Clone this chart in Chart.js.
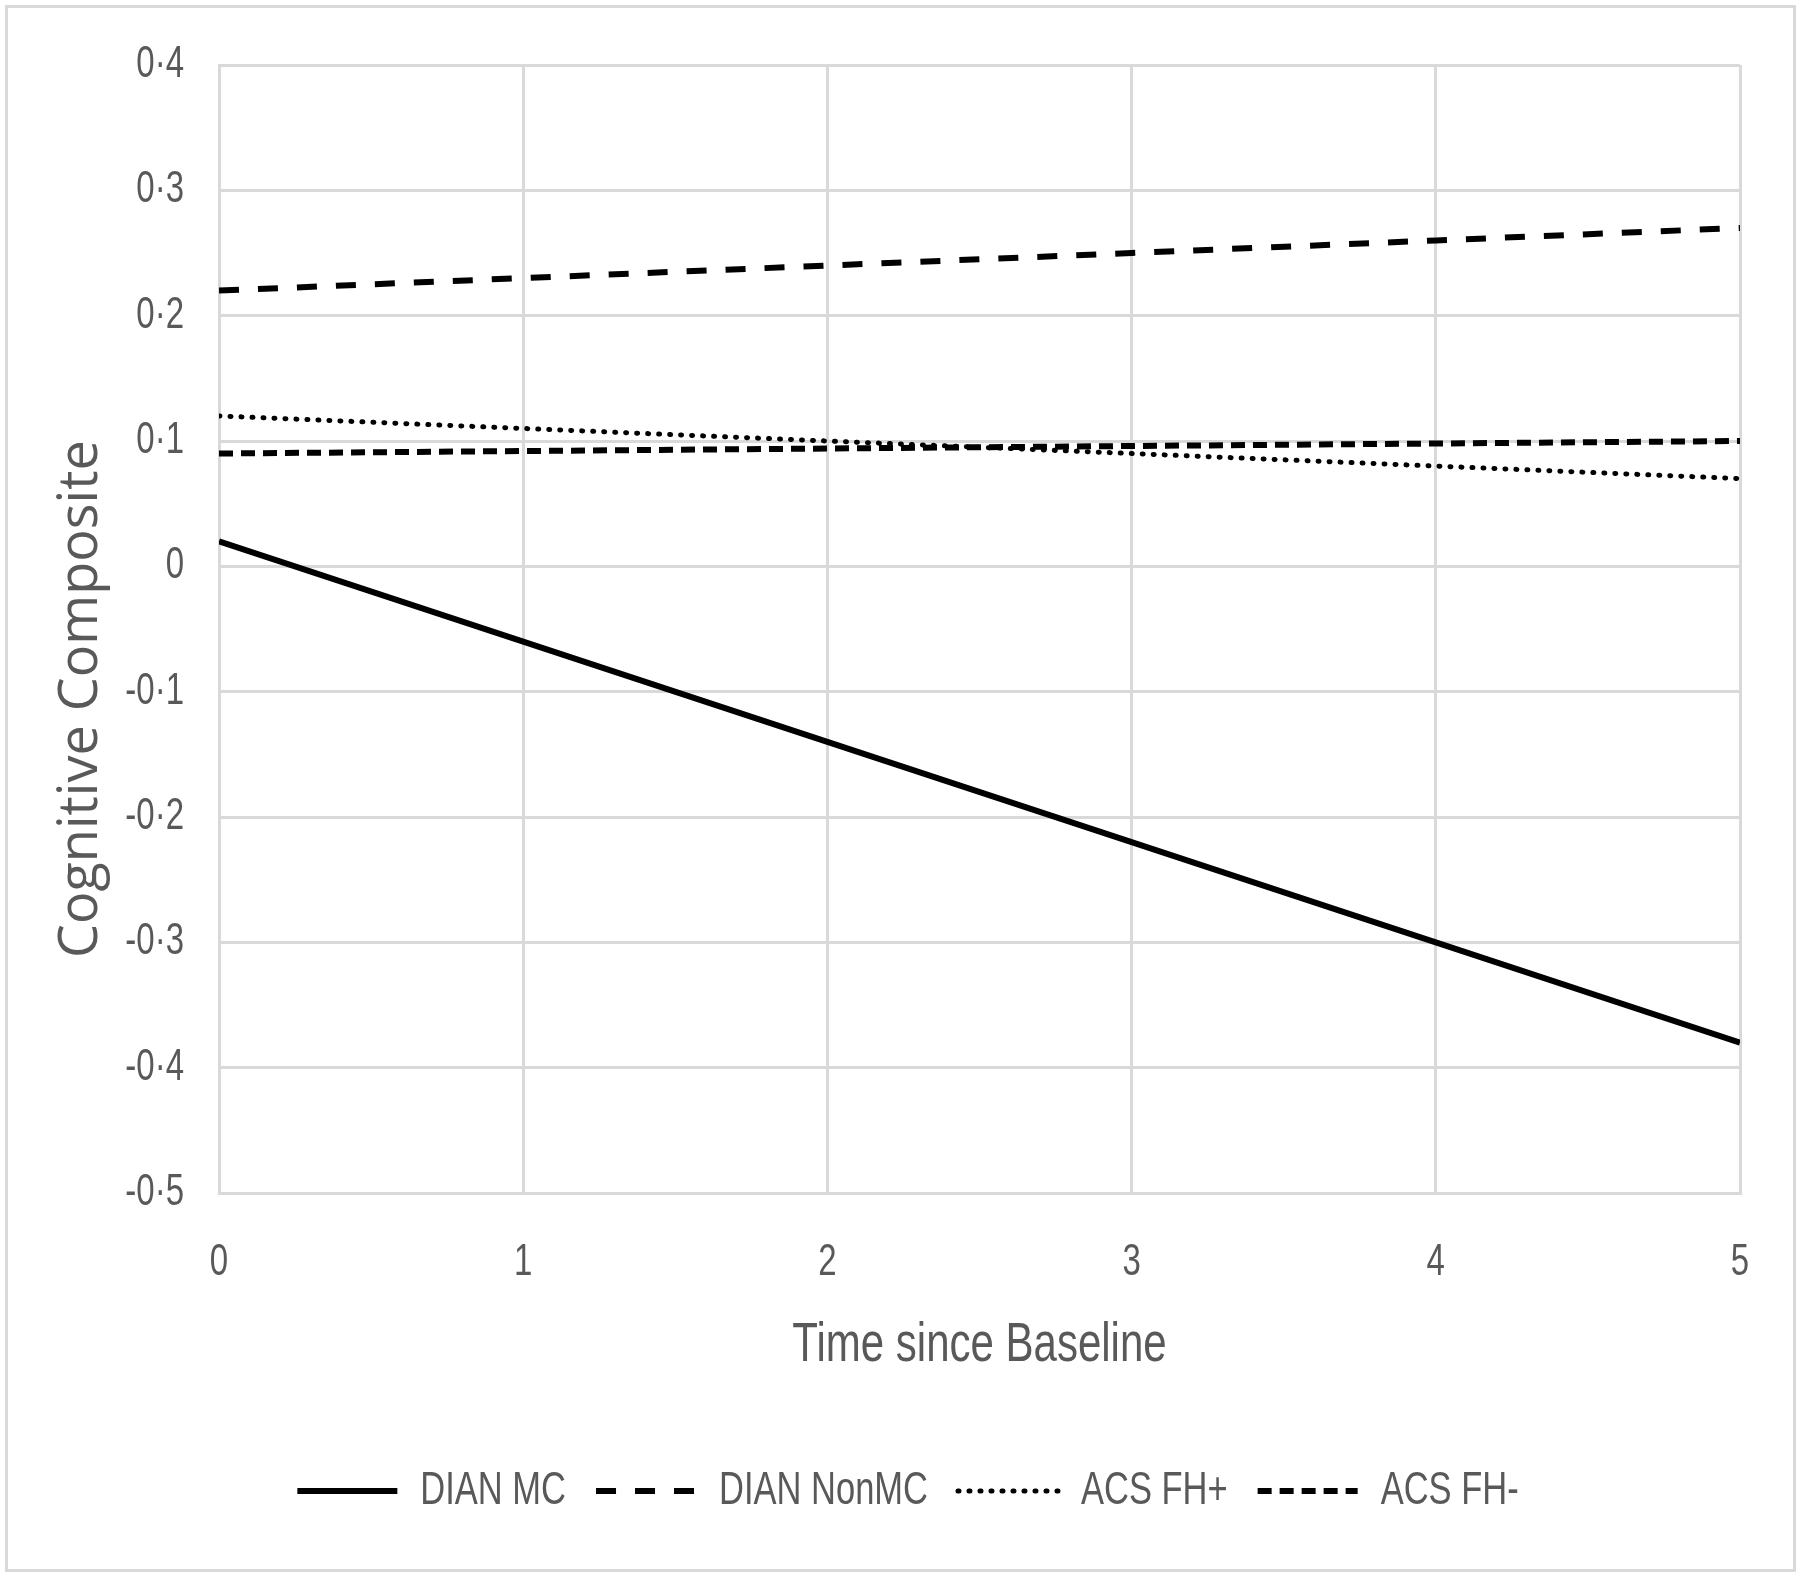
<!DOCTYPE html>
<html>
<head>
<meta charset="utf-8">
<script src="https://cdn.jsdelivr.net/npm/chart.js@4"></script>
<style>
  body { margin: 0; background: #fff; }
  #chart { position: absolute; left: 0; top: 0; }
  #frame { position: absolute; left: 5px; top: 5px; width: 1791px; height: 1567px;
           border: 3px solid #d9d9d9; box-sizing: border-box; pointer-events: none; }
</style>
</head>
<body>
<canvas id="chart" width="1800" height="1577"></canvas>
<div id="frame"></div>
<script>
const years = [0, 1, 2, 3, 4, 5];
const dianMC = [0.02, -0.06, -0.14, -0.22, -0.30, -0.38];
const dianNonMC = [0.22, 0.23, 0.24, 0.25, 0.26, 0.27];
const acsFHpos = [0.12, 0.11, 0.10, 0.09, 0.08, 0.07];
const acsFHneg = [0.09, 0.092, 0.094, 0.096, 0.098, 0.10];

const narrow = "'Liberation Sans', Arial, sans-serif";
const grey = '#595959';
const gridCol = '#d9d9d9';

// no condensed font installed: squeeze Liberation Sans text horizontally
const SQUEEZE = 0.75;
const proto = CanvasRenderingContext2D.prototype;
const origMeasure = proto.measureText;
const origFill = proto.fillText;
proto.measureText = function (t) {
  const m = origMeasure.call(this, t);
  if (!this.font.includes('Liberation Sans')) return m;
  return { width: m.width * SQUEEZE, actualBoundingBoxAscent: m.actualBoundingBoxAscent,
           actualBoundingBoxDescent: m.actualBoundingBoxDescent };
};
proto.fillText = function (t, x, y, w) {
  if (!this.font.includes('Liberation Sans')) return origFill.call(this, t, x, y, w);
  const sw = origMeasure.call(this, t).width * SQUEEZE;
  return origFill.call(this, t, x, y, w === undefined ? sw : Math.min(w, sw));
};

const pts = arr => arr.map((v, i) => ({ x: years[i], y: v }));

document.addEventListener("DOMContentLoaded", () => {
  new Chart(document.querySelector("#chart"), {
    type: "line",
    data: {
      datasets: [
        {
          label: 'DIAN MC',
          data: pts(dianMC),
          borderColor: '#000',
          borderWidth: 6
        },
        {
          label: 'DIAN NonMC',
          data: pts(dianNonMC),
          borderColor: '#000',
          borderWidth: 6,
          borderDash: [20, 19]
        },
        {
          label: 'ACS FH+',
          data: pts(acsFHpos),
          borderColor: '#000',
          borderWidth: 5,
          borderCapStyle: 'round',
          borderDash: [1, 10]
        },
        {
          label: 'ACS FH-',
          data: pts(acsFHneg),
          borderColor: '#000',
          borderWidth: 6,
          borderDash: [14, 8]
        }
      ]
    },
    options: {
      responsive: false,
      animation: false,
      elements: { point: { radius: 0 }, line: { tension: 0 } },
      layout: { padding: { left: 76, right: 60, top: 65, bottom: 53 } },
      plugins: {
        tooltip: { enabled: false },
        legend: {
          position: 'bottom',
          labels: {
            usePointStyle: true,
            pointStyle: 'line',
            pointStyleWidth: 100,
            padding: 30,
            color: grey,
            font: { family: narrow, size: 46 },
            // point-style legend drops the dash, so copy it back from the dataset
            generateLabels: chart =>
              Chart.defaults.plugins.legend.labels.generateLabels(chart).map(item => {
                const ds = chart.data.datasets[item.datasetIndex];
                return { ...item, lineDash: ds.borderDash || [], lineCap: ds.borderCapStyle || 'butt' };
              })
          }
        }
      },
      scales: {
        x: {
          type: 'linear',
          min: 0,
          max: 5,
          ticks: { stepSize: 1, padding: 43, color: grey, font: { family: narrow, size: 44 } },
          grid: { color: gridCol, lineWidth: 3, drawTicks: false },
          border: { color: gridCol, width: 3 },
          title: {
            display: true,
            text: 'Time since Baseline',
            color: grey,
            font: { family: narrow, size: 56 },
            padding: { top: 0, bottom: 59 }
          },
          afterFit: scale => { scale.height = 245; }
        },
        y: {
          min: -0.5,
          max: 0.4,
          ticks: {
            stepSize: 0.1,
            padding: 35,
            color: grey,
            font: { family: narrow, size: 44 },
            callback: v => Math.abs(v) < 1e-9 ? '0' : v.toFixed(1).replace('.', '·')
          },
          grid: { color: gridCol, lineWidth: 3, drawTicks: false },
          border: { color: gridCol, width: 3 },
          title: {
            display: true,
            text: 'Cognitive Composite' + '\u00a0'.repeat(10),
            color: grey,
            font: { family: "'Open Sans', sans-serif", size: 54 },
            padding: { top: -27, bottom: 0 }
          },
          afterFit: scale => { scale.width = 143; }
        }
      }
    }
  });
});
</script>
</body>
</html>
